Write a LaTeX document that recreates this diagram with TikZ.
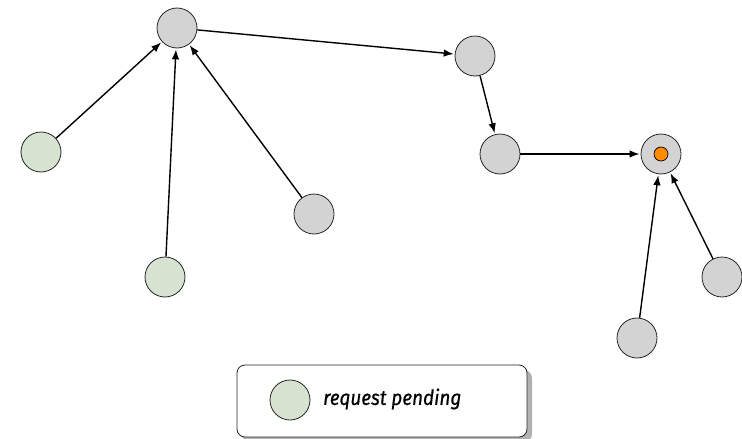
\documentclass[tikz,border=0pt]{standalone}
\usepackage{fontspec}
\newfontfamily\legfont[FakeStretch=0.9,FakeBold=0.6]{Fira Sans}
\usetikzlibrary{arrows.meta,shadows}
\definecolor{nodegray}{HTML}{D3D3D3}
\definecolor{pendgreen}{HTML}{D5E3D0}
\definecolor{dotorange}{HTML}{FF8C00}
\begin{document}
\begin{tikzpicture}[x=1pt,y=-1pt,
  vtx/.style={circle,draw=black!85,line width=0.8pt,fill=nodegray,minimum size=40pt,inner sep=0pt},
  pend/.style={vtx,fill=pendgreen},
  link/.style={-{Latex[length=10pt,width=7.5pt]},line width=1.4pt,shorten >=1pt}]
\useasboundingbox (0,0) rectangle (742,439);
\node[vtx] (a) at (177,28) {};
\node[vtx] (b) at (475,56) {};
\node[vtx] (c) at (500,154) {};
\node[vtx] (d) at (661,154) {};
\node[circle,draw=black,line width=0.7pt,fill=dotorange,minimum size=14pt,inner sep=0pt] (dot) at (d) {};
\node[pend] (e) at (41,152) {};
\node[pend] (f) at (165,277) {};
\node[vtx] (g) at (314,214) {};
\node[vtx] (h) at (637,338) {};
\node[vtx] (i) at (722,277) {};
\draw[link] (e) -- (a);
\draw[link] (f) -- (a);
\draw[link] (g) -- (a);
\draw[link] (a) -- (b);
\draw[link] (b) -- (c);
\draw[link] (c) -- (d);
\draw[link] (h) -- (d);
\draw[link] (i) -- (d);
\node[draw=black!85,line width=0.8pt,rounded corners=8pt,fill=white,
  drop shadow={shadow xshift=5pt,shadow yshift=-5pt,fill=black!30,opacity=1},
  minimum width=290pt,minimum height=72pt] (leg) at (382,401) {};
\node[pend] (legc) at (290,400) {};
\node[anchor=west,inner sep=0pt,font=\legfont\itshape\fontsize{21}{24}\selectfont] (legt) at (323,399) {request pending};
\end{tikzpicture}
\end{document}
